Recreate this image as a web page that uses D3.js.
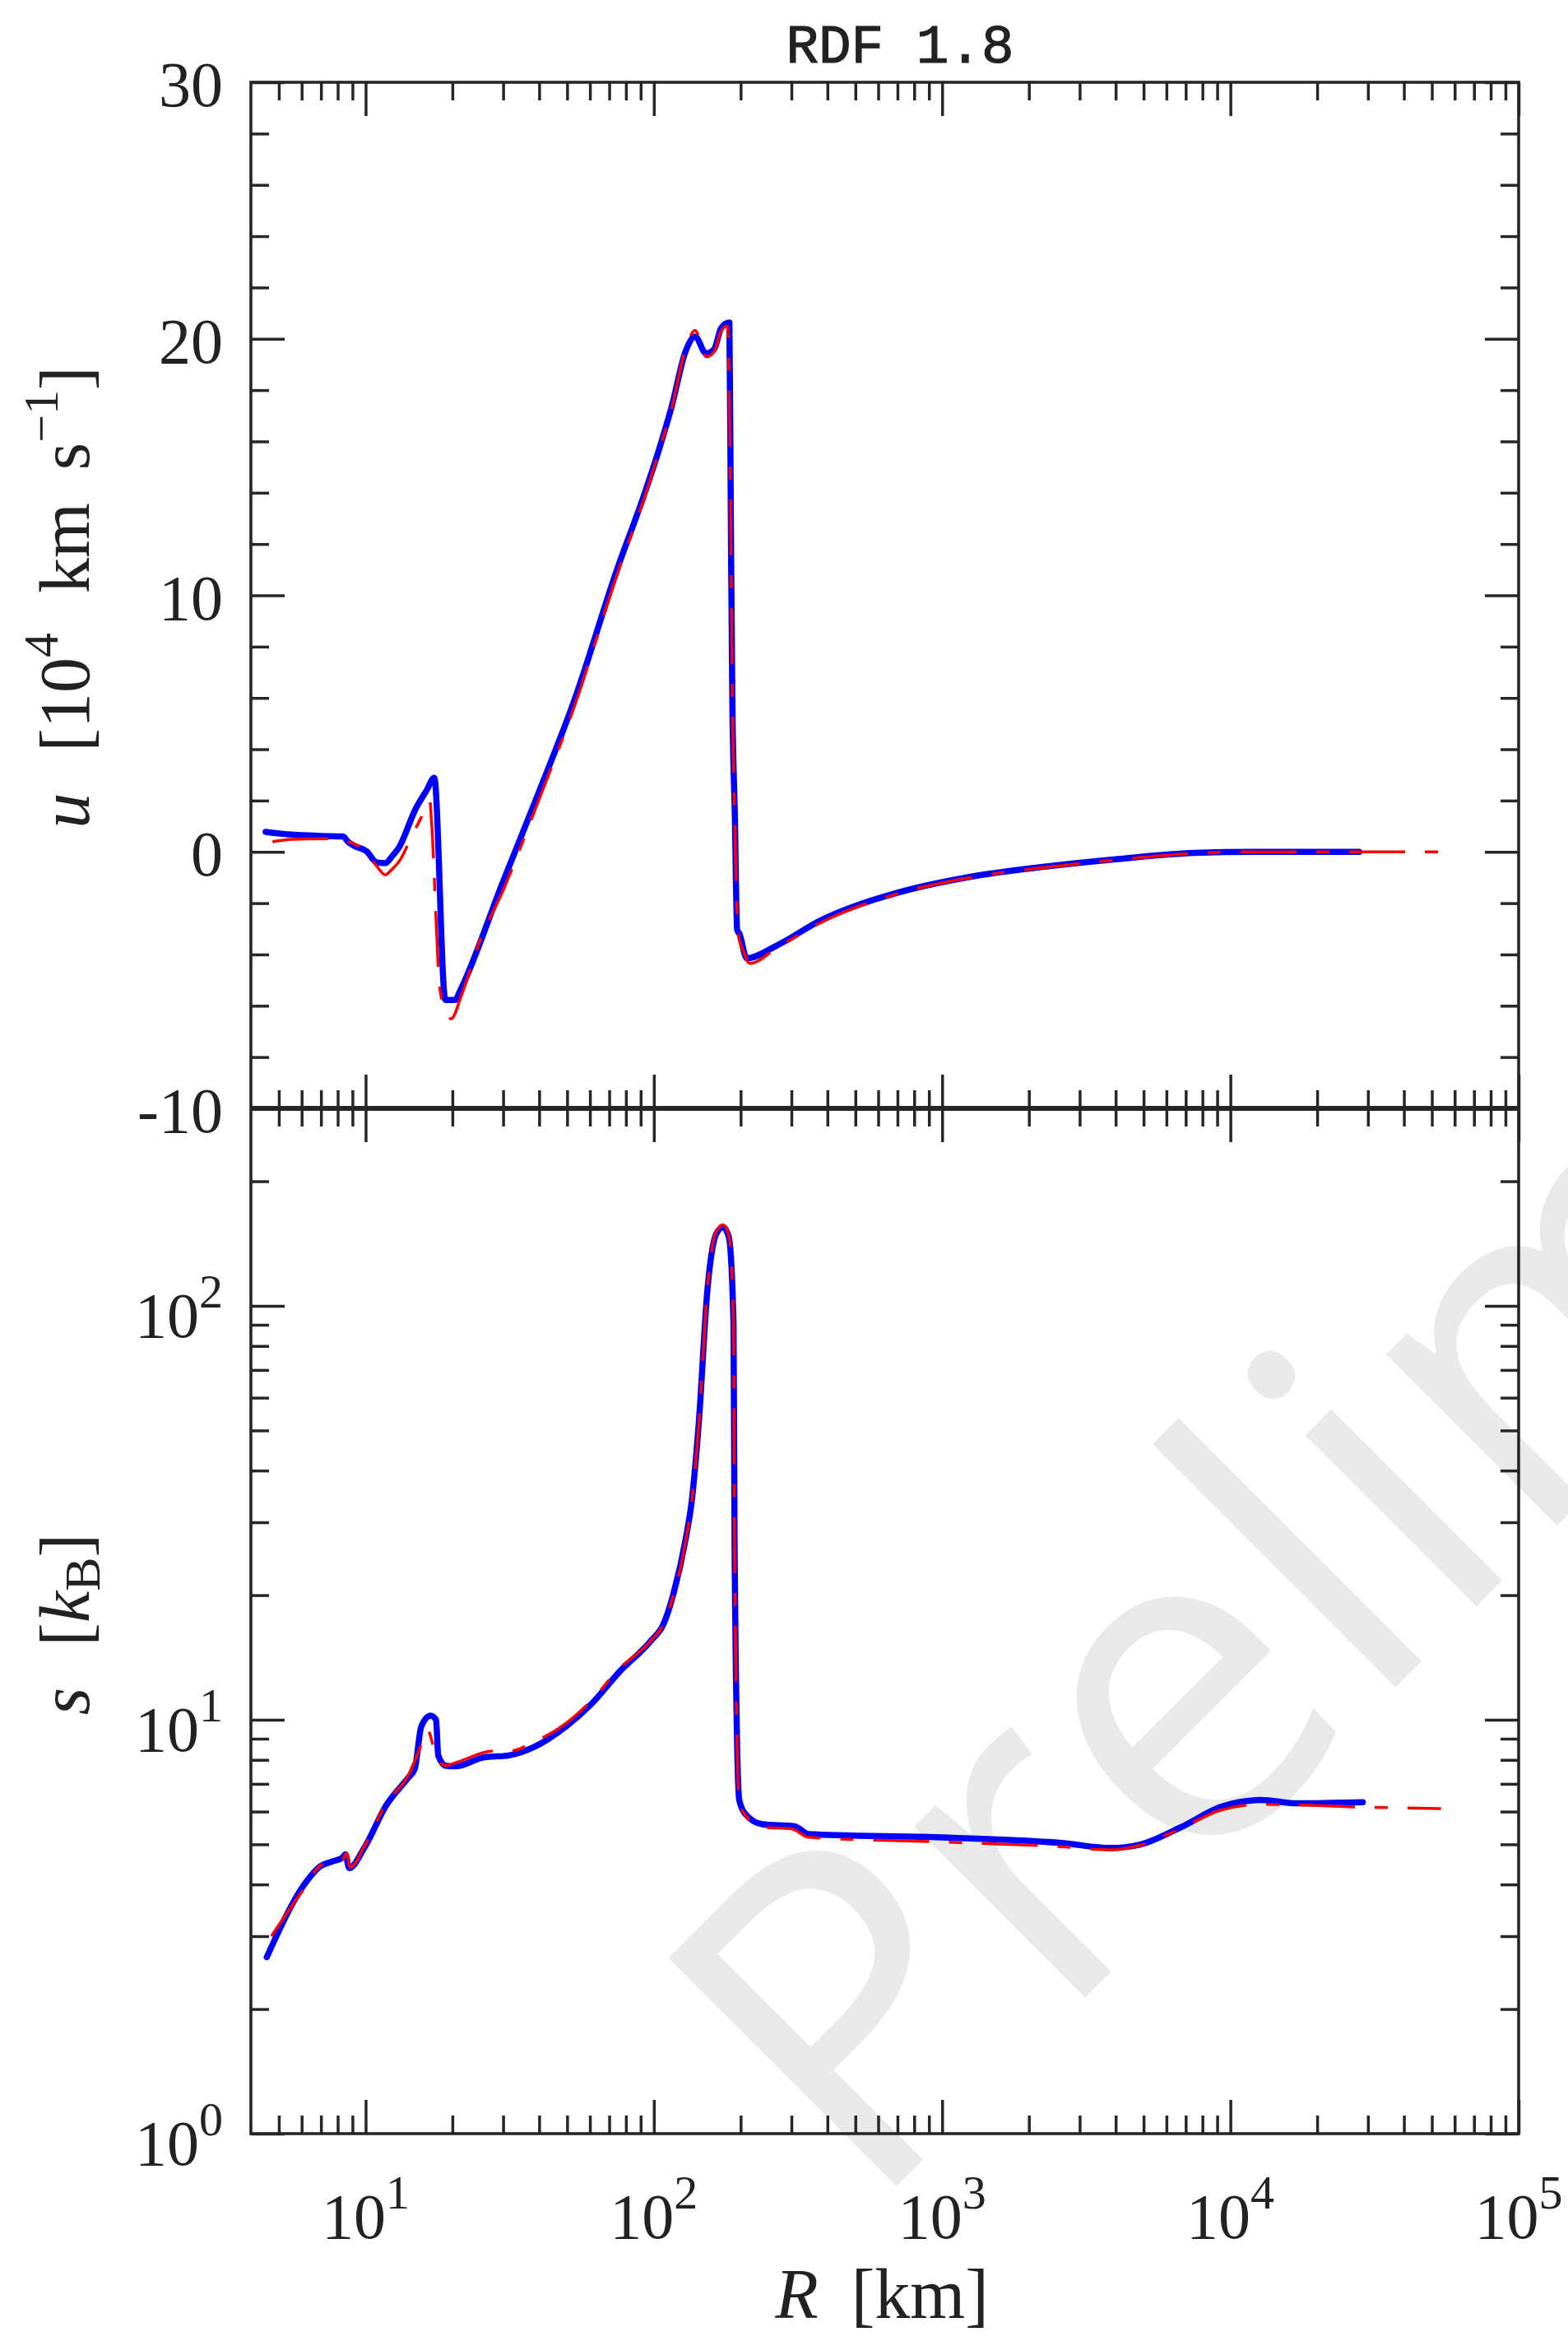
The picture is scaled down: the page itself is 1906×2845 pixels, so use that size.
<!DOCTYPE html>
<html>
<head>
<meta charset="utf-8">
<script src="https://cdn.jsdelivr.net/npm/d3@7"></script>
<style>
  html, body { margin: 0; padding: 0; background: #ffffff; }
  svg { display: block; }
</style>
</head>
<body>
<svg id="chart" width="1906" height="2845"></svg>
<script>
// ---------------- data ----------------
const titleText = "RDF 1.8";
const watermarkText = "Preliminary";

// top panel: radial velocity u [1e4 km/s]
const uBlueR = [4.5, 5.56, 7.0, 8.34, 8.71, 9.18, 10.05, 10.97, 11.7, 12.4, 13.05, 14.9, 16.3, 17.3, 18.9, 20.5, 21.1, 30, 39.5, 53.1, 74.5, 92.7, 103.5, 115.4, 128.8, 139, 151.7, 162, 171, 182.8, 185, 187, 191, 194.5, 198, 210, 267, 381, 692, 1256, 2300, 4150, 7500, 12000, 28000];
const uBlue  = [0.78, 0.67, 0.62, 0.60, 0.38, 0.22, 0.03, -0.42, -0.44, -0.15, 0.17, 1.67, 2.41, 2.89, -5.77, -5.77, -5.5, -1.15, 2.2, 5.94, 11.0, 13.95, 15.58, 17.38, 19.51, 20.09, 19.43, 19.6, 20.41, 20.63, 12.8, 6.26, 1.36, -3.04, -3.19, -4.15, -3.65, -2.66, -1.61, -0.97, -0.57, -0.27, -0.04, 0.0, 0.0];

const uRedR = [4.75, 5.56, 7.55, 8.8, 10.05, 11.0, 11.7, 12.2, 13.2, 14.3, 16.3, 16.7, 16.9, 18.1, 18.9, 19.8, 21.5, 24.7, 30, 39.5, 53.1, 74.5, 92.7, 103.5, 115.4, 128.8, 139, 152, 162, 171, 180, 184, 187, 191, 196, 205, 215, 267, 381, 692, 1256, 2300, 4150, 7500, 12000, 28000, 56000];
const uRed  = [0.39, 0.49, 0.51, 0.38, 0.0, -0.6, -0.9, -0.74, -0.3, 0.49, 1.77, 2.0, 1.3, -5.34, -6.14, -6.51, -5.6, -3.57, -1.5, 1.9, 5.7, 10.8, 13.8, 15.5, 17.3, 19.6, 20.33, 19.3, 19.5, 20.3, 20.5, 15.0, 6.5, 1.0, -3.2, -3.9, -4.35, -3.75, -2.75, -1.65, -1.0, -0.6, -0.3, -0.06, 0.0, 0.0, 0.0];

// bottom panel: entropy s [k_B]
const sBlueR = [4.54, 6.29, 6.95, 7.69, 8.30, 8.51, 8.77, 9.9, 11.8, 14.07, 14.8, 15.6, 16.8, 17.55, 17.86, 19.0, 20.5, 25.7, 31.4, 38.5, 49.5, 60.5, 75.9, 97.5, 107.9, 117, 129, 135.3, 143, 153.5, 164.4, 173.8, 182, 188.9, 190.7, 197.8, 207.3, 238, 307.5, 345, 1050, 2650, 3840, 4840, 6700, 9270, 12800, 16900, 28800];
const sBlue  = [2.67, 4.10, 4.42, 4.55, 4.64, 4.73, 4.38, 4.91, 6.22, 7.25, 7.6, 9.63, 10.23, 10.0, 8.2, 7.74, 7.72, 8.11, 8.2, 8.6, 9.63, 10.89, 13.05, 15.5, 17.0, 20.2, 27.4, 33.7, 51.6, 110, 149, 155, 146.5, 91, 24.2, 6.4, 5.93, 5.59, 5.53, 5.29, 5.19, 5.03, 4.90, 4.99, 5.49, 6.16, 6.4, 6.28, 6.32];

const sRedR = [4.71, 6.05, 7.0, 8.3, 8.6, 8.85, 9.9, 11.8, 14.0, 15.3, 16.4, 17.2, 17.8, 19.0, 20.8, 27.7, 31.4, 38.5, 49.5, 60.5, 75.9, 97.5, 107.9, 117, 129, 135.3, 143, 153.5, 164.4, 173.8, 182, 188.9, 190.7, 197.8, 207.3, 238, 300, 345, 1050, 2650, 3840, 4840, 6700, 9270, 12800, 28800, 53800];
const sRed  = [3.0, 3.87, 4.45, 4.6, 4.75, 4.4, 4.95, 6.3, 7.3, 8.4, 9.45, 8.6, 8.0, 7.75, 7.9, 8.4, 8.4, 8.85, 9.8, 11.1, 13.3, 15.5, 17.0, 20.0, 27.0, 33.5, 51.0, 111, 151, 157, 148, 92, 24.0, 6.3, 5.9, 5.5, 5.45, 5.2, 5.06, 4.93, 4.85, 4.97, 5.45, 6.05, 6.25, 6.15, 6.1];

// ticks
const xMajorTicks = [10, 100, 1000, 10000, 100000];
const xTickExponents = ["1", "2", "3", "4", "5"];
const xMinorTicks = [5, 6, 7, 8, 9, 20, 30, 40, 50, 60, 70, 80, 90, 200, 300, 400, 500, 600, 700, 800, 900,
  2000, 3000, 4000, 5000, 6000, 7000, 8000, 9000, 20000, 30000, 40000, 50000, 60000, 70000, 80000, 90000];
const uMajorTicks = [-10, 0, 10, 20, 30];
const uTickLabels = ["-10", "0", "10", "20", "30"];
const uMinorTicks = [-8, -6, -4, -2, 2, 4, 6, 8, 12, 14, 16, 18, 22, 24, 26, 28];
const sMajorTicks = [1, 10, 100];
const sTickExponents = ["0", "1", "2"];
const sMinorTicks = [2, 3, 4, 5, 6, 7, 8, 9, 20, 30, 40, 50, 60, 70, 80, 90, 200];

// ---------------- layout ----------------
const L = 305, R = 1846, T = 100, M = 1347, B = 2593;
const AX = "#262626";
const SERIF = "'Liberation Serif', 'Times New Roman', serif";
const svg = d3.select("#chart");

const x = d3.scaleLog().domain([4, 1e5]).range([L, R]);
const yU = d3.scaleLinear().domain([-10, 30]).range([M, T]);
const yS = d3.scaleLog().domain([1, 300]).range([B, M]);

// watermark (behind everything)
svg.append("text")
  .attr("transform", "translate(1052,2695) rotate(-45)")
  .style("font-family", "'Open Sans', sans-serif")
  .style("font-size", "550px")
  .attr("fill", "#e9e9e9")
  .text(watermarkText);

// ---------------- data lines ----------------
const zip = (a, b) => a.map((v, i) => [v, b[i]]);
const lineU = d3.line().x(d => x(d[0])).y(d => yU(d[1])).curve(d3.curveMonotoneX);
const lineS = d3.line().x(d => x(d[0])).y(d => yS(d[1])).curve(d3.curveMonotoneX);

svg.append("path").attr("d", lineU(zip(uBlueR, uBlue)))
  .attr("fill", "none").attr("stroke", "#0000ff").attr("stroke-width", 7.5)
  .attr("stroke-linejoin", "round").attr("stroke-linecap", "round");
svg.append("path").attr("d", lineU(zip(uRedR, uRed)))
  .attr("fill", "none").attr("stroke", "#ff0000").attr("stroke-width", 3.5)
  .attr("stroke-dasharray", "68,24,16,24").attr("stroke-linejoin", "round");

svg.append("path").attr("d", lineS(zip(sBlueR, sBlue)))
  .attr("fill", "none").attr("stroke", "#0000ff").attr("stroke-width", 7.5)
  .attr("stroke-linejoin", "round").attr("stroke-linecap", "round");
svg.append("path").attr("d", lineS(zip(sRedR, sRed)))
  .attr("fill", "none").attr("stroke", "#ff0000").attr("stroke-width", 3.5)
  .attr("stroke-dasharray", "68,24,16,24").attr("stroke-linejoin", "round");

// ---------------- axes / ticks ----------------
function drawAxis(axisGen, tx, ty, values, size) {
  const g = svg.append("g").attr("transform", `translate(${tx},${ty})`)
    .call(axisGen.tickValues(values).tickSizeInner(size).tickSizeOuter(0).tickFormat(""));
  g.select(".domain").remove();
  g.selectAll(".tick line").attr("stroke", AX).attr("stroke-width", 3.5);
  return g;
}
const MIN = -22, MAJ = -41;
// x ticks: top edge, middle (both directions), bottom edge
drawAxis(d3.axisTop(x), 0, T, xMinorTicks, MIN);
drawAxis(d3.axisTop(x), 0, T, xMajorTicks, MAJ);
drawAxis(d3.axisBottom(x), 0, M, xMinorTicks, MIN);
drawAxis(d3.axisBottom(x), 0, M, xMajorTicks, MAJ);
drawAxis(d3.axisTop(x), 0, M, xMinorTicks, MIN);
drawAxis(d3.axisTop(x), 0, M, xMajorTicks, MAJ);
drawAxis(d3.axisBottom(x), 0, B, xMinorTicks, MIN);
drawAxis(d3.axisBottom(x), 0, B, xMajorTicks, MAJ);
// y ticks top panel
drawAxis(d3.axisLeft(yU), L, 0, uMinorTicks, MIN);
drawAxis(d3.axisLeft(yU), L, 0, uMajorTicks, MAJ);
drawAxis(d3.axisRight(yU), R, 0, uMinorTicks, MIN);
drawAxis(d3.axisRight(yU), R, 0, uMajorTicks, MAJ);
// y ticks bottom panel
drawAxis(d3.axisLeft(yS), L, 0, sMinorTicks, MIN);
drawAxis(d3.axisLeft(yS), L, 0, sMajorTicks, MAJ);
drawAxis(d3.axisRight(yS), R, 0, sMinorTicks, MIN);
drawAxis(d3.axisRight(yS), R, 0, sMajorTicks, MAJ);

// frames
svg.append("rect").attr("x", L).attr("y", T).attr("width", R - L).attr("height", B - T)
  .attr("fill", "none").attr("stroke", AX).attr("stroke-width", 3.6);
svg.append("line").attr("x1", L).attr("x2", R).attr("y1", M).attr("y2", M)
  .attr("stroke", AX).attr("stroke-width", 6);

// ---------------- tick labels ----------------
const labG = svg.append("g").style("font-family", SERIF).attr("fill", "#222");
// u labels
uMajorTicks.forEach((v, i) => {
  labG.append("text").attr("x", 271).attr("y", yU(v) + 29)
    .attr("text-anchor", "end").style("font-size", "78px").text(uTickLabels[i]);
});
function powLabel(px, py, exp, anchor) {
  const t = labG.append("text").attr("x", px).attr("y", py)
    .attr("text-anchor", anchor).style("font-size", "78px");
  t.append("tspan").text("10");
  t.append("tspan").attr("dy", -36).style("font-size", "58px").text(exp);
}
sMajorTicks.forEach((v, i) => powLabel(271, yS(v) + 38, sTickExponents[i], "end"));
xMajorTicks.forEach((v, i) => powLabel(x(v), 2720, xTickExponents[i], "middle"));

// ---------------- title ----------------
svg.append("text").attr("x", 1094).attr("y", 76).attr("text-anchor", "middle")
  .style("font-family", "'Liberation Mono', 'DejaVu Sans Mono', monospace")
  .style("font-size", "66px").attr("fill", "#222")
  .attr("stroke", "#222").attr("stroke-width", 1.2)
  .text(titleText);

// ---------------- axis titles ----------------
const yl1 = svg.append("text").attr("transform", "translate(108,726) rotate(-90)")
  .attr("text-anchor", "middle").style("font-family", SERIF).style("font-size", "86px").attr("fill", "#222");
yl1.append("tspan").style("font-style", "italic").text("u");
yl1.append("tspan").attr("dx", 50).text("[10");
yl1.append("tspan").attr("dy", -38).style("font-size", "60px").text("4");
yl1.append("tspan").attr("dy", 38).attr("dx", 48).text("km");
yl1.append("tspan").attr("dx", 40).text("s");
yl1.append("tspan").attr("dy", -38).style("font-size", "60px").text("\u22121");
yl1.append("tspan").attr("dy", 38).text("]");

const yl2 = svg.append("text").attr("transform", "translate(108,1974) rotate(-90)")
  .attr("text-anchor", "middle").style("font-family", SERIF).style("font-size", "86px").attr("fill", "#222");
yl2.append("tspan").style("font-style", "italic").text("s");
yl2.append("tspan").attr("dx", 50).text("[");
yl2.append("tspan").style("font-style", "italic").text("k");
yl2.append("tspan").attr("dy", 13).style("font-size", "62px").text("B");
yl2.append("tspan").attr("dy", -13).text("]");

const xl = svg.append("text").attr("x", 1072).attr("y", 2817)
  .attr("text-anchor", "middle").style("font-family", SERIF).style("font-size", "86px").attr("fill", "#222");
xl.append("tspan").style("font-style", "italic").text("R");
xl.append("tspan").attr("dx", 40).text("[km]");
</script>
</body>
</html>
